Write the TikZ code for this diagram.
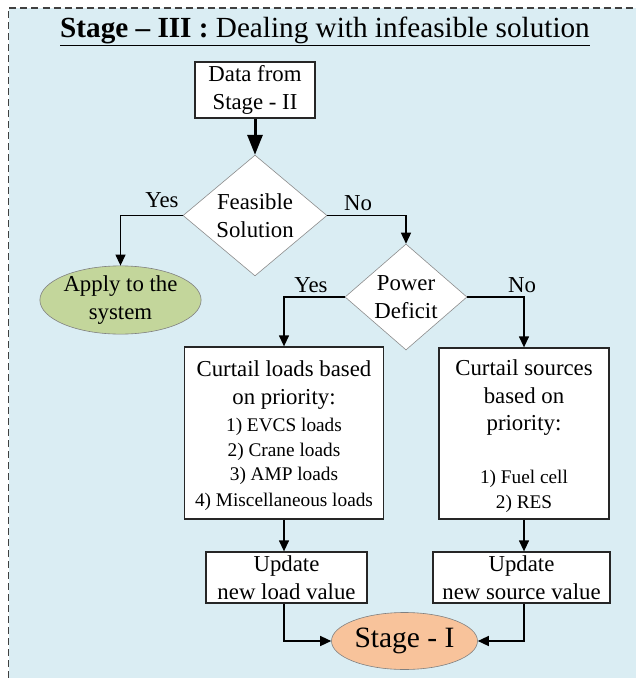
\documentclass[tikz,border=0pt]{standalone}
\usepackage{fontspec}
\setmainfont{Liberation Serif}
\usetikzlibrary{shapes.geometric,arrows.meta}
\definecolor{bgblue}{HTML}{DAEDF3}
\definecolor{applygreen}{HTML}{C3D69B}
\definecolor{stageorange}{HTML}{F8C39B}
\definecolor{frame}{HTML}{404040}
\newcommand{\bigtxt}{\fontsize{22.8}{27.5}\selectfont}
\newcommand{\smalltxt}{\fontsize{19.3}{24.5}\selectfont}
\tikzset{
  procbox/.style={draw=black!85, line width=1.3pt, fill=white, inner sep=0pt, align=center, font=\bigtxt},
  decision/.style={diamond, draw=black!45, line width=0.6pt, fill=white, inner sep=0pt, align=center, font=\bigtxt},
  terminal/.style={ellipse, draw=black!50, line width=0.6pt, inner sep=0pt, align=center},
  flow/.style={line width=1.3pt, -{Triangle[length=11pt,width=10pt]}},
  thickflow/.style={line width=3pt, -{Triangle[length=20pt,width=15pt]}},
  lbl/.style={font=\bigtxt, inner sep=0pt}
}
\begin{document}
\begin{tikzpicture}[x=1pt,y=-1pt]
\useasboundingbox (0,0) rectangle (636,678);
\fill[bgblue] (8.5,8) rectangle (636,678);
\draw[frame, line width=1.3pt, dash pattern=on 7pt off 4pt] (8.5,678) -- (8.5,8) -- (636,8);

\node[inner sep=0pt, anchor=base, font=\fontsize{29.2}{33}\selectfont] (title) at (325,37)
  {\underline{\textbf{Stage – III :} Dealing with infeasible solution}};

\node[procbox, minimum width=120pt, minimum height=56pt] (data) at (255,90) {Data from\\Stage - II};
\node[decision, minimum width=144pt, minimum height=105pt] (feas) at (255,215.5) {Feasible\\Solution};
\node[terminal, fill=applygreen, minimum width=161pt, minimum height=64pt, font=\bigtxt] (apply) at (120.5,300) {Apply to the\\system};
\node[decision, minimum width=122pt, minimum height=90pt] (deficit) at (406,297) {Power\\Deficit};

\node[procbox, minimum width=199pt, minimum height=172pt] (loads) at (284,433)
  {\raisebox{-3pt}[\height][\depth]{\begin{tabular}{@{}c@{}}Curtail loads based\\on priority:\\[0pt]\smalltxt 1) EVCS loads\\[-3pt]\smalltxt 2) Crane loads\\[-3pt]\smalltxt 3) AMP loads\\[-2pt]\smalltxt 4) Miscellaneous loads\end{tabular}}};
\node[procbox, minimum width=170pt, minimum height=171pt] (sources) at (524,433.5)
  {\raisebox{-3pt}[\height][\depth]{\begin{tabular}{@{}c@{}}Curtail sources\\based on\\priority:\\[25pt]\smalltxt 1) Fuel cell\\[-2pt]\smalltxt 2) RES\end{tabular}}};

\node[procbox, minimum width=161pt, minimum height=51pt] (updl) at (286.5,577.5) {Update\\new load value};
\node[procbox, minimum width=177pt, minimum height=51pt] (upds) at (521.5,577.5) {Update\\new source value};

\node[terminal, fill=stageorange, minimum width=146pt, minimum height=57pt, font=\fontsize{29.5}{33}\selectfont] (stage1) at (404.5,641) {Stage - I};

\draw[thickflow] (data.south) -- (feas.north);
\draw[flow] (feas.west) -| (apply.north);
\draw[flow] (feas.east) -| (deficit.north);
\draw[flow] (deficit.west) -| (loads.north);
\draw[flow] (deficit.east) -| (sources.north);
\draw[flow] (loads.south) -- (loads.south |- updl.north);
\draw[flow] (sources.south) -- (sources.south |- upds.north);
\draw[flow] (loads.south |- updl.south) |- (stage1.west);
\draw[flow] (sources.south |- upds.south) |- (stage1.east);

\node[lbl] (yes1) at (162,200) {Yes};
\node[lbl] (no1) at (358,203) {No};
\node[lbl] (yes2) at (311,285) {Yes};
\node[lbl] (no2) at (522,285) {No};
\end{tikzpicture}
\end{document}
